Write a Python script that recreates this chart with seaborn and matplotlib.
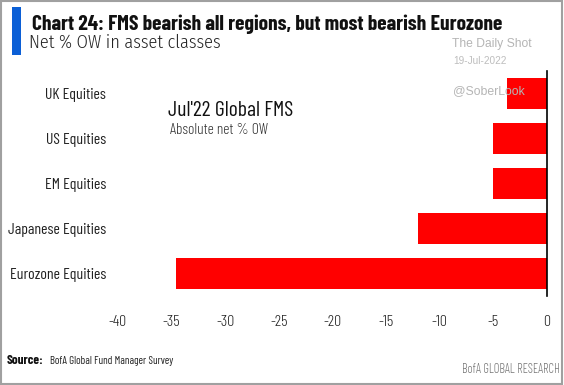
import matplotlib
matplotlib.use("Agg")
import matplotlib.pyplot as plt
import seaborn as sns
import pandas as pd
from matplotlib.patches import Rectangle

categories = ["UK Equities", "US Equities", "EM Equities", "Japanese Equities", "Eurozone Equities"]
values = [-3.7, -5.0, -5.0, -12.0, -34.6]
xticks = [-40, -35, -30, -25, -20, -15, -10, -5, 0]

sns.set_theme(style="white")
COND = ['Barlow Condensed', 'DejaVu Sans']
FIRA = ['Fira Sans Condensed', 'DejaVu Sans']
ARIAL = ['Liberation Sans', 'DejaVu Sans']
plt.rcParams['font.family'] = COND
plt.rcParams['font.weight'] = 300

df = pd.DataFrame({"cat": categories, "val": values})

W, H = 564, 385
fig = plt.figure(figsize=(W / 100, H / 100), dpi=100)
ax = fig.add_axes([118 / W, 1 - 296 / H, (547 - 118) / W, (296 - 71) / H])
sns.barplot(data=df, x="val", y="cat", color="#ff0000", saturation=1, width=0.69, ax=ax, orient="h")
for p in ax.patches:
    p.set_edgecolor("none")
ax.set_xlim(-40, 0)
ax.set_ylim(4.5, -0.5)
ax.set_xticks(xticks)
ax.set_xticklabels([str(t) for t in xticks], fontsize=11.5, color="#222222", fontweight=300)
ax.tick_params(axis="y", labelsize=11, colors="#222222", pad=8.5, length=0)
ax.tick_params(axis="x", pad=14, length=0)
ax.set_xlabel("")
ax.set_ylabel("")
for s in ["top", "left", "bottom"]:
    ax.spines[s].set_visible(False)
ax.spines["right"].set_color("black")
ax.spines["right"].set_linewidth(1.2)
ax.set_facecolor("none")


def fy(y):
    return 1 - y / H


def fit(t, target_w):
    r = fig.canvas.get_renderer()
    bb = t.get_window_extent(r)
    t.set_fontsize(t.get_fontsize() * target_w / bb.width)


def txt(x, y, s, fam, w, col, size=10, ha="left"):
    return fig.text(x / W, fy(y), s, family=fam, fontweight=w, color=col, fontsize=size, ha=ha, va="baseline")


t_ann1 = txt(168, 116, "Jul'22 Global FMS", COND, 400, "#111111", 15)
t_ann2 = txt(170, 134.5, "Absolute net % OW", COND, 300, "#333333", 11)

# frame and title decor
fig.patches.append(Rectangle((0.002, 0.003), 0.995, 0.994, transform=fig.transFigure, fill=False, edgecolor="#a0a0a0", linewidth=1.5))
fig.patches.append(Rectangle((12 / W, fy(55)), 9 / W, 48 / H, transform=fig.transFigure, facecolor="#0b5fd6", edgecolor="none"))
t_title = txt(32, 30, "Chart 24: FMS bearish all regions, but most bearish Eurozone", COND, 700, "#111111", 15)
t_sub = txt(29, 48, "Net % OW in asset classes", FIRA, 300, "#222222", 13)

t_w1 = txt(452, 47, "The Daily Shot", ARIAL, "normal", "#b5b5b5", 10)
t_w2 = txt(453, 64, "19-Jul-2022", ARIAL, "normal", "#bdbdbd", 7)
t_w3 = txt(453, 94, "@SoberLook", ARIAL, "normal", "#b5b5b5", 10)

t_src1 = txt(7, 364, "Source:", COND, 700, "#111111", 9)
t_src2 = txt(50, 364, "BofA Global Fund Manager Survey", COND, 400, "#222222", 9)
t_bofa = txt(560, 373, "BofA GLOBAL RESEARCH", COND, 300, "#777777", 9, ha="right")

fig.canvas.draw()
for t, w in [(t_title, 471), (t_sub, 192), (t_ann1, 125), (t_ann2, 98), (t_src1, 37),
             (t_src2, 124), (t_bofa, 98), (t_w1, 80), (t_w2, 53), (t_w3, 72)]:
    fit(t, w)
r = fig.canvas.get_renderer()
labs = ax.get_yticklabels()
for l in labs:
    l.set_fontweight(400)
euro = [l for l in labs if l.get_text() == "Eurozone Equities"][0]
sz = euro.get_fontsize() * 96 / euro.get_window_extent(r).width
for l in labs:
    l.set_fontsize(sz)

fig.savefig("out.png", dpi=100)
